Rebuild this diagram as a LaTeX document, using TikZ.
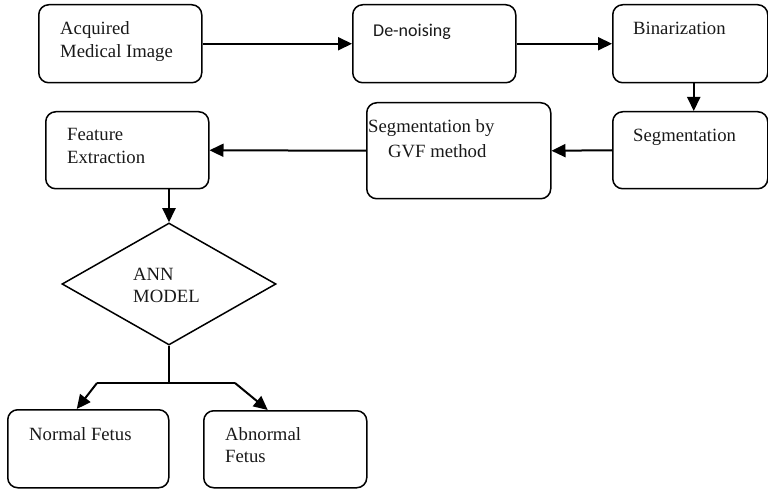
\documentclass[tikz,border=0pt]{standalone}
\usepackage{fontspec}
\setmainfont{Liberation Serif}
\newfontfamily\calfont{Carlito}
\usetikzlibrary{arrows.meta,shapes.geometric}

\begin{document}
\begin{tikzpicture}[x=1pt,y=-1pt,
  box/.style={draw, rounded corners=10pt, line width=1.5pt, inner sep=0pt, anchor=north west},
  lbl/.style={anchor=base west, inner sep=0pt, text=black!90, font=\fontsize{18.7}{23}\selectfont},
  flow/.style={line width=2pt, -{Triangle[length=14pt,width=13pt]}},
  wire/.style={line width=2pt}
]
\useasboundingbox (0,0) rectangle (768,489);

% process boxes
\node[box, minimum width=163pt, minimum height=78pt] (acq) at (38,4) {};
\node[box, minimum width=163pt, minimum height=78pt] (den) at (352,4) {};
\node[box, minimum width=155pt, minimum height=78pt] (bin) at (612,4) {};
\node[box, minimum width=155pt, minimum height=77pt] (seg) at (612,111) {};
\node[box, minimum width=184pt, minimum height=96pt] (gvf) at (366,102) {};
\node[box, minimum width=163pt, minimum height=77pt] (fea) at (45,111) {};
\node[box, minimum width=161pt, minimum height=78pt] (nor) at (7,409) {};
\node[box, minimum width=163pt, minimum height=77pt] (abn) at (203,410) {};

% decision
\node[draw, diamond, line width=1.5pt, inner sep=0pt, minimum width=214pt, minimum height=122pt] (ann) at (169,284) {};

% box texts
\node[lbl] (t1) at (60,35) {Acquired};
\node[lbl] (t2) at (60,58) {Medical Image};
\node[lbl, font=\calfont\fontsize{18}{22}\selectfont] (t3) at (373,37) {De-noising};
\node[lbl] (t4) at (633,35) {Binarization};
\node[lbl] (t5) at (633,141.5) {Segmentation};
\node[lbl] (t6) at (368,133) {Segmentation by};
\node[lbl] (t7) at (388,158) {GVF method};
\node[lbl] (t8) at (67,141) {Feature};
\node[lbl] (t9) at (67,164) {Extraction};
\node[lbl] (t10) at (133,280) {ANN};
\node[lbl] (t11) at (133,302) {MODEL};
\node[lbl] (t12) at (29,440.5) {Normal Fetus};
\node[lbl] (t13) at (225,440.5) {Abnormal};
\node[lbl] (t14) at (225,462.5) {Fetus};

% connectors
\draw[flow] (acq.east) -- (den.west);
\draw[flow] (den.east) -- (bin.west);
\draw[flow] ([xshift=3.5pt]bin.south) -- ([xshift=3.5pt]seg.north);
\draw[flow] (seg.west) -- (gvf.east);
\draw[flow] (gvf.west) -- (fea.east);
\draw[flow] (fea.south -| ann.north) -- (ann.north);

\coordinate (split) at (169,383);
\coordinate (sl) at (97,383);
\coordinate (sr) at (235,383);
\draw[wire] (ann.south) -- (split);
\draw[wire] (sl) -- (sr);
\draw[flow] (sl) -- ([xshift=-11.5pt]nor.north);
\draw[flow] (sr) -- ([xshift=-17.5pt]abn.north);
\end{tikzpicture}
\end{document}
